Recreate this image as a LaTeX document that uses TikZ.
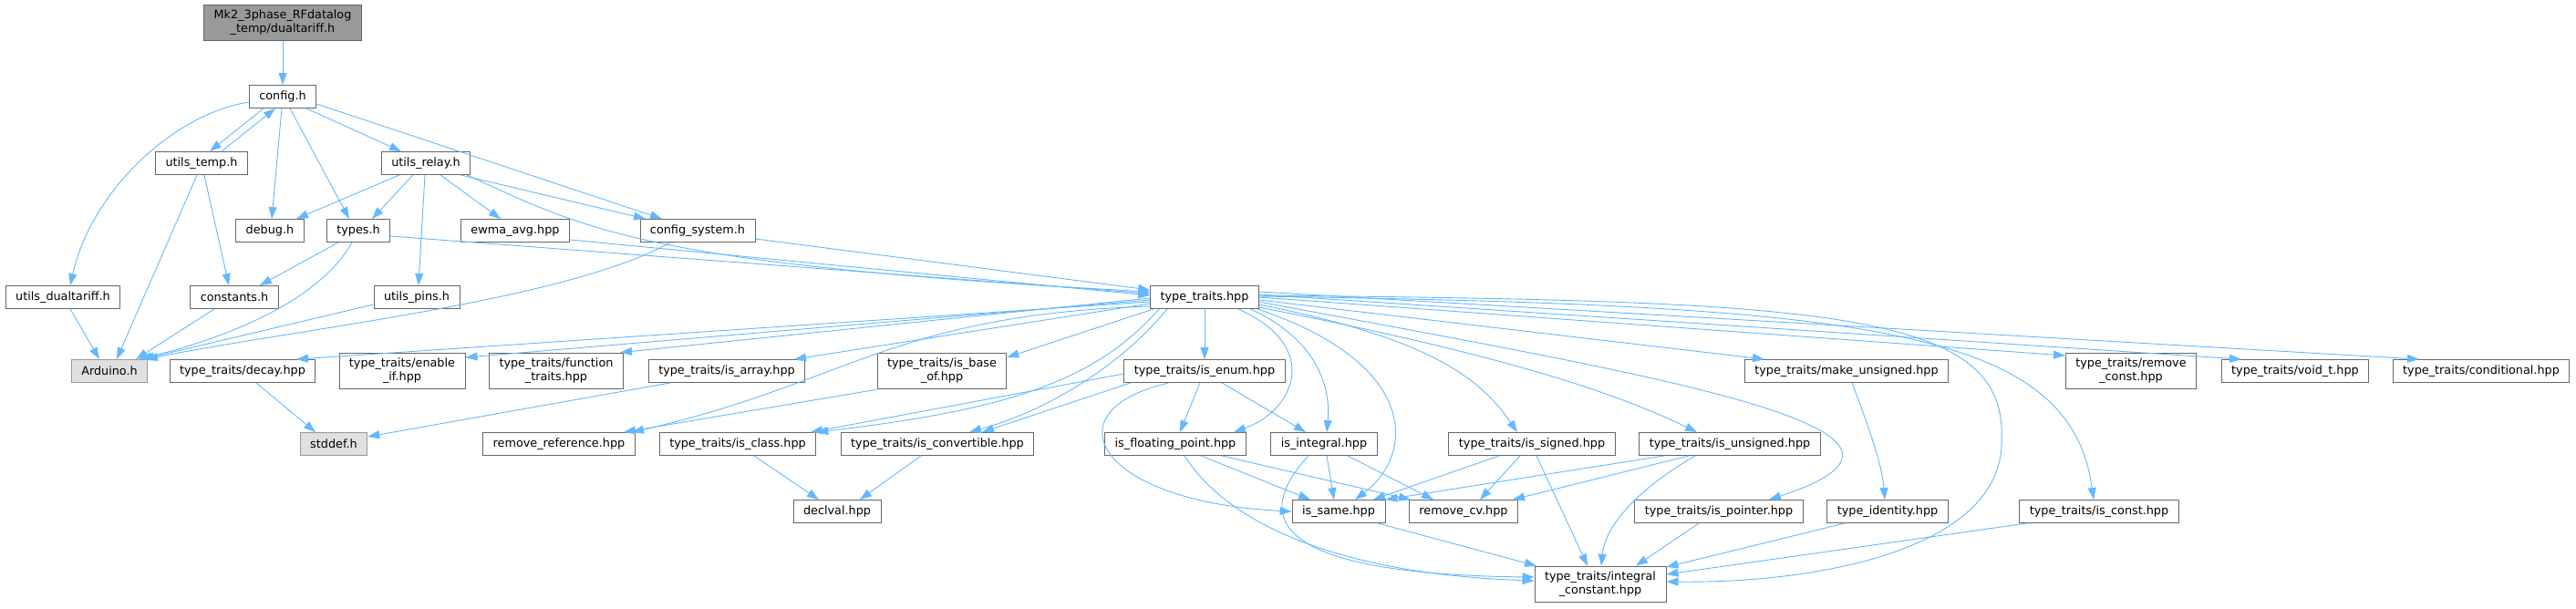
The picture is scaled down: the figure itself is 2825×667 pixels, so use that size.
\documentclass[tikz,border=0pt]{standalone}
\usepackage{fontspec}
\setmainfont{DejaVu Sans}
\usetikzlibrary{arrows.meta,calc}
\definecolor{linkblue}{HTML}{63B8FF}
\definecolor{boxline}{HTML}{666666}
\definecolor{sysline}{HTML}{999999}
\definecolor{sysfill}{HTML}{E0E0E0}
\definecolor{topfill}{HTML}{999999}
\newcommand{\boxfont}{\fontsize{12.8}{15}\selectfont}
\tikzset{box/.style={draw=boxline,fill=white,line width=0.9pt,minimum height=25pt,
 inner xsep=11pt,inner ysep=6pt,align=center,font=\boxfont},
 sysbox/.style={box,draw=sysline,fill=sysfill},
 topbox/.style={box,fill=topfill},
 arr/.style={-{Triangle[length=13pt,width=9pt]},line width=0.9pt,draw=linkblue}}

\begin{document}
\begin{tikzpicture}[x=1pt,y=-1pt]
\useasboundingbox (0,0) rectangle (2825,667);
\node[topbox] (mk2) at (310,25) {Mk2\_3phase\_RFdatalog\\\_temp/dualtariff.h};
\node[box] (config) at (310,106) {config.h};
\node[box] (utemp) at (221,179) {utils\_temp.h};
\node[box] (urelay) at (467,179) {utils\_relay.h};
\node[box] (debug) at (296,253) {debug.h};
\node[box] (types) at (393,253) {types.h};
\node[box] (ewma) at (565,253) {ewma\_avg.hpp};
\node[box] (csys) at (765,253) {config\_system.h};
\node[box] (udual) at (69,326) {utils\_dualtariff.h};
\node[box] (consts) at (257,326) {constants.h};
\node[box] (upins) at (457,326) {utils\_pins.h};
\node[box] (tth) at (1321,326) {type\_traits.hpp};
\node[sysbox] (arduino) at (120,407) {Arduino.h};
\node[box] (decay) at (266,407) {type\_traits/decay.hpp};
\node[box] (enableif) at (441,407) {type\_traits/enable\\\_if.hpp};
\node[box] (functr) at (610,407) {type\_traits/function\\\_traits.hpp};
\node[box] (isarray) at (797,407) {type\_traits/is\_array.hpp};
\node[box] (isbase) at (1033,407) {type\_traits/is\_base\\\_of.hpp};
\node[box] (isenum) at (1321,407) {type\_traits/is\_enum.hpp};
\node[box] (makeuns) at (2025,407) {type\_traits/make\_unsigned.hpp};
\node[box] (remconst) at (2337,407) {type\_traits/remove\\\_const.hpp};
\node[box] (voidt) at (2517,407) {type\_traits/void\_t.hpp};
\node[box] (cond) at (2721,407) {type\_traits/conditional.hpp};
\node[sysbox] (stddef) at (366,487) {stddef.h};
\node[box] (remref) at (613,487) {remove\_reference.hpp};
\node[box] (isclass) at (809,487) {type\_traits/is\_class.hpp};
\node[box] (isconv) at (1028,487) {type\_traits/is\_convertible.hpp};
\node[box] (isfloat) at (1289,487) {is\_floating\_point.hpp};
\node[box] (isint) at (1452,487) {is\_integral.hpp};
\node[box] (issigned) at (1680,487) {type\_traits/is\_signed.hpp};
\node[box] (isuns) at (1897,487) {type\_traits/is\_unsigned.hpp};
\node[box] (declval) at (918,561) {declval.hpp};
\node[box] (issame) at (1468,561) {is\_same.hpp};
\node[box] (remcv) at (1605,561) {remove\_cv.hpp};
\node[box] (isptr) at (1885,561) {type\_traits/is\_pointer.hpp};
\node[box] (typeid) at (2070,561) {type\_identity.hpp};
\node[box] (isconst) at (2302,561) {type\_traits/is\_const.hpp};
\node[box] (intconst) at (1755,641) {type\_traits/integral\\\_constant.hpp};
\draw[arr] (mk2) -- (config);
\draw[arr] ($(config.south)+(-21,0)$) -- ($(utemp.north)+(9,0)$);
\draw[arr] ($(utemp.north)+(22,0)$) -- ($(config.south)+(-8,0)$);
\draw[arr] ($(config.south)+(-1,0)$) -- ($(debug.north)+(2,0)$);
\draw[arr] ($(config.south)+(8,0)$) -- ($(types.north)+(-10,0)$);
\draw[arr] ($(config.south)+(26,0)$) -- ($(urelay.north)+(-27,0)$);
\draw[arr] ($(config.east)+(0,8)$) -- ($(csys.north)+(-39,0)$);
\draw[arr] ($(config.west)+(0,6)$) .. controls (190,125) and (100,210) .. ($(udual.north)+(8,0)$);
\draw[arr] ($(utemp.south)+(3,0)$) -- ($(consts.north)+(-6,0)$);
\draw[arr] ($(utemp.south)+(-5,0)$) -- ($(arduino.north)+(8,0)$);
\draw[arr] ($(urelay.south)+(-29,0)$) -- ($(debug.north)+(29,0)$);
\draw[arr] ($(urelay.south)+(-14,0)$) -- ($(types.north)+(15,0)$);
\draw[arr] ($(urelay.south)+(-1,0)$) -- ($(upins.north)+(2,0)$);
\draw[arr] ($(urelay.south)+(16,0)$) -- ($(ewma.north)+(-16,0)$);
\draw[arr] ($(urelay.south)+(38,0)$) -- ($(csys.north)+(-57,0)$);
\draw[arr] ($(urelay.south)+(45,0)$) .. controls (640,250) and (700,290) .. ($(tth.west)+(0,-6)$);
\draw[arr] ($(types.south)+(-22,0)$) -- ($(consts.north)+(28,0)$);
\draw[arr] ($(types.south)+(-7,0)$) .. controls (350,330) and (250,370) .. ($(arduino.north)+(33,0)$);
\draw[arr] ($(types.east)+(0,6)$) -- ($(tth.west)+(0,-4)$);
\draw[arr] ($(ewma.east)+(0,10)$) -- ($(tth.west)+(0,-2)$);
\draw[arr] ($(csys.east)+(0,9)$) -- ($(tth.west)+(0,-8)$);
\draw[arr] ($(csys.south)+(-30,0)$) .. controls (620,330) and (330,360) .. ($(arduino.north)+(40,0)$);
\draw[arr] ($(udual.south)+(8,0)$) -- ($(arduino.north)+(-11,0)$);
\draw[arr] ($(consts.south)+(-22,0)$) -- ($(arduino.north)+(29,0)$);
\draw[arr] ($(upins.west)+(0,8)$) -- ($(arduino.north)+(36,0)$);
\draw[arr] ($(decay.south)+(15,0)$) -- ($(stddef.north)+(-20,0)$);
\draw[arr] ($(isarray.south)+(-62,0)$) -- ($(stddef.east)+(0,-8)$);
\draw[arr] ($(tth.west)+(0,5)$) -- ($(decay.north)+(59,0)$);
\draw[arr] ($(tth.west)+(0,3)$) -- ($(enableif.east)+(0,-15)$);
\draw[arr] ($(tth.west)+(0,1)$) -- ($(functr.north)+(70,0)$);
\draw[arr] ($(tth.west)+(0,7)$) -- ($(isarray.north)+(74,0)$);
\draw[arr] ($(tth.south west)+(4,0)$) -- ($(isbase.east)+(0,-15)$);
\draw[arr] ($(tth.west)+(0,10)$) .. controls (980,345) and (930,420) .. ($(remref.north)+(80,0)$);
\draw[arr] ($(tth.south)+(-50,0)$) .. controls (1200,420) and (1100,450) .. (isclass.north east);
\draw[arr] ($(tth.south)+(-41,0)$) .. controls (1230,400) and (1150,450) .. ($(isconv.north)+(35,0)$);
\draw[arr] (tth) -- (isenum);
\draw[arr] ($(tth.south)+(37,0)$) .. controls (1450,380) and (1420,450) .. ($(isfloat.north)+(64,0)$);
\draw[arr] ($(tth.south)+(50,0)$) .. controls (1440,370) and (1460,420) .. ($(isint.north)+(3,0)$);
\draw[arr] ($(tth.south)+(58,0)$) .. controls (1560,400) and (1550,500) .. ($(issame.north)+(18,0)$);
\draw[arr] ($(tth.east)+(0,8)$) .. controls (1560,370) and (1620,410) .. ($(issigned.north)+(-16,0)$);
\draw[arr] ($(tth.east)+(0,11)$) .. controls (1600,380) and (1750,420) .. ($(isuns.north)+(-36,0)$);
\draw[arr] ($(tth.east)+(0,5)$) .. controls (1800,410) and (2180,470) .. ($(isptr.north)+(55,0)$);
\draw[arr] ($(tth.east)+(0,3)$) -- ($(makeuns.north)+(-90,0)$);
\draw[arr] (tth.east) -- ($(remconst.west)+(0,-17)$);
\draw[arr] ($(tth.east)+(0,-3)$) -- ($(voidt.north)+(-59,0)$);
\draw[arr] ($(tth.east)+(0,-6)$) -- ($(cond.north)+(-68,0)$);
\draw[arr] ($(tth.east)+(0,-1)$) .. controls (2050,335) and (2270,360) .. ($(isconst.north)+(-6,0)$);
\draw[arr] ($(tth.east)+(0,-2)$) .. controls (2000,330) and (2200,340) .. (2195,480) .. controls (2200,600) and (2000,640) .. ($(intconst.east)+(0,-3)$);
\draw[arr] ($(isenum.south)+(-5,0)$) -- ($(isfloat.north)+(5,0)$);
\draw[arr] ($(isenum.south)+(19,0)$) -- ($(isint.north)+(-20,0)$);
\draw[arr] ($(isenum.south)+(-39,0)$) .. controls (1150,450) and (1200,550) .. (issame.west);
\draw[arr] ($(isenum.west)+(0,3)$) -- ($(isclass.north)+(80,0)$);
\draw[arr] ($(isenum.south)+(-81,0)$) -- ($(isconv.north)+(49,0)$);
\draw[arr] ($(isfloat.south)+(28,0)$) -- ($(issame.north)+(-31,0)$);
\draw[arr] ($(isfloat.south)+(51,0)$) -- ($(remcv.north)+(-58,0)$);
\draw[arr] ($(isfloat.south)+(10,0)$) .. controls (1350,580) and (1480,630) .. ($(intconst.west)+(0,-4)$);
\draw[arr] ($(isint.south)+(3,0)$) -- ($(issame.north)+(-5,0)$);
\draw[arr] ($(isint.south)+(26,0)$) -- ($(remcv.north)+(-33,0)$);
\draw[arr] ($(isint.south)+(-17,0)$) .. controls (1370,570) and (1400,630) .. ($(intconst.west)+(0,-8)$);
\draw[arr] ($(issigned.south)+(-36,0)$) -- ($(issame.north)+(38,0)$);
\draw[arr] ($(issigned.south)+(-13,0)$) -- ($(remcv.north)+(18,0)$);
\draw[arr] ($(issigned.south)+(5,0)$) -- ($(intconst.north)+(-14,0)$);
\draw[arr] ($(isuns.south)+(-72,0)$) -- (issame.north east);
\draw[arr] ($(isuns.south)+(-45,0)$) -- ($(remcv.north)+(54,0)$);
\draw[arr] ($(isuns.south)+(-38,0)$) .. controls (1790,540) and (1760,580) .. ($(intconst.north)+(1,0)$);
\draw[arr] ($(issame.south)+(43,0)$) -- ($(intconst.north)+(-70,0)$);
\draw[arr] ($(isptr.south)+(-22,0)$) -- ($(intconst.north)+(39,0)$);
\draw[arr] ($(typeid.south)+(-47,0)$) -- ($(intconst.east)+(0,-19)$);
\draw[arr] ($(isconst.south)+(-79,0)$) -- ($(intconst.east)+(0,-11)$);
\draw[arr] ($(makeuns.south)+(6,0)$) .. controls (2050,470) and (2064,510) .. ($(typeid.north)+(-3,0)$);
\draw[arr] ($(isclass.south)+(18,0)$) -- ($(declval.north)+(-20,0)$);
\draw[arr] ($(isconv.south)+(-18,0)$) -- ($(declval.north)+(25,0)$);
\draw[arr] ($(isbase.south)+(-72,0)$) -- ($(remref.north)+(71,0)$);
\end{tikzpicture}
\end{document}
